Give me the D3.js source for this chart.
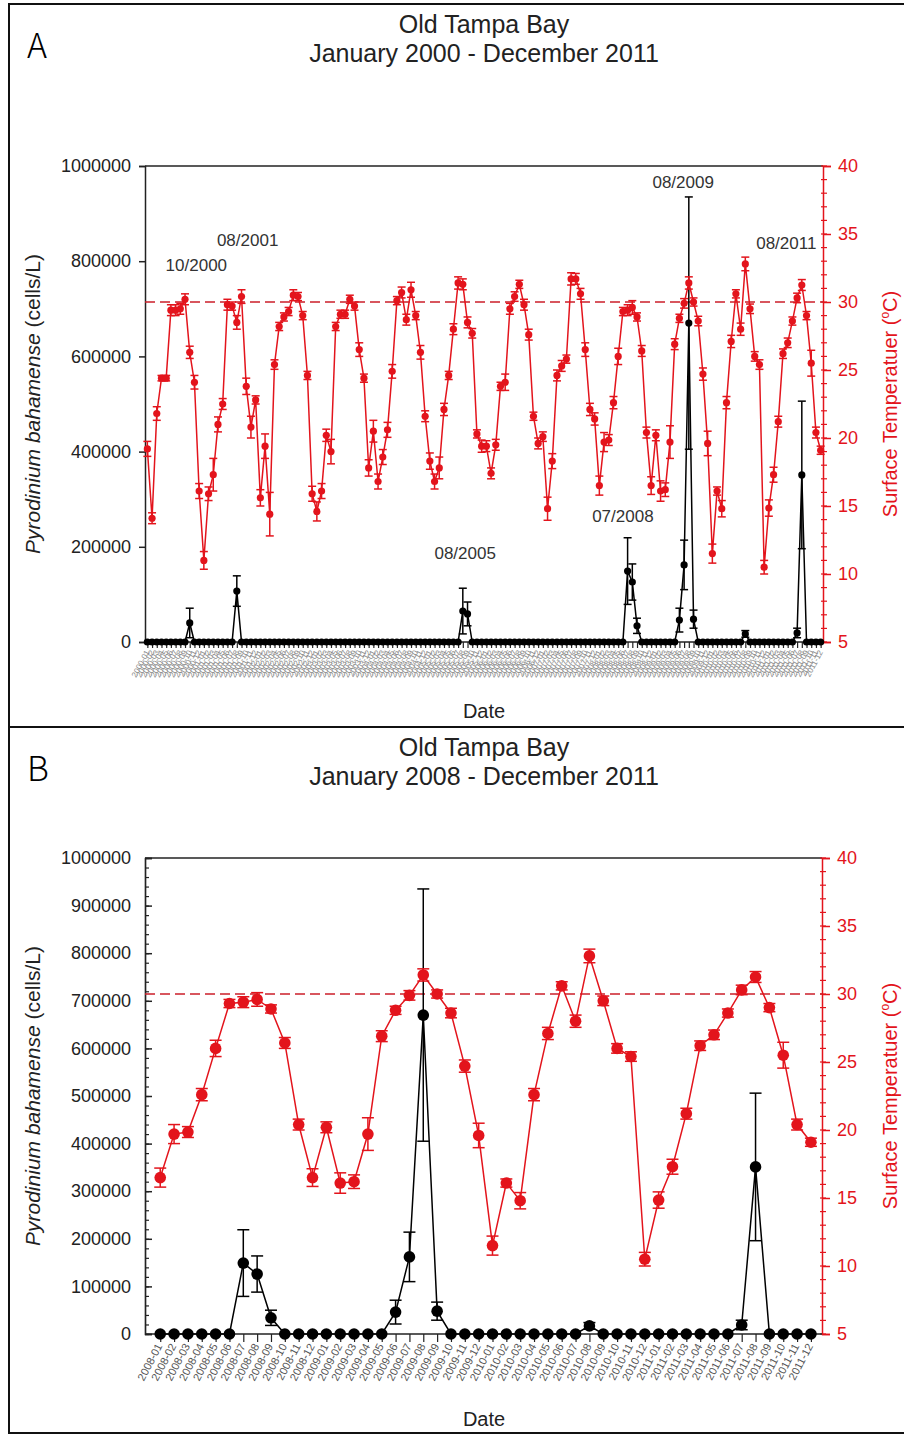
<!DOCTYPE html>
<html>
<head>
<meta charset="utf-8">
<script src="https://cdn.jsdelivr.net/npm/d3@7/dist/d3.min.js"></script>
<style>
body{margin:0;background:#fff;}
svg{display:block;font-family:"Liberation Sans",Arial,sans-serif;}
</style>
</head>
<body>
<script>
//Data: monthly values, January 2000 - December 2011
var years = [2000,2001,2002,2003,2004,2005,2006,2007,2008,2009,2010,2011];
var monthNums = ["01","02","03","04","05","06","07","08","09","10","11","12"];

//Surface temperature (C), one row per year
var temperature = [
  19.2,14.1,21.8,24.4,24.4,29.4,29.4,29.5,30.2,26.3,24.1,16.1,
  11.0,15.9,17.3,21.0,22.5,29.8,29.7,28.5,30.4,23.8,20.8,22.8,
  15.6,19.4,14.4,25.4,28.2,28.9,29.3,30.5,30.4,29.0,24.6,15.9,
  14.6,16.1,20.2,19.0,28.2,29.1,29.1,30.2,29.7,26.5,24.4,17.8,
  20.5,16.8,18.6,20.6,24.9,30.1,30.7,28.7,30.9,29.0,26.3,21.6,
  18.3,16.8,17.8,22.1,24.6,28.0,31.4,31.3,28.5,27.7,20.3,19.4,
  19.4,17.4,19.5,23.8,24.1,29.5,30.4,31.3,29.8,27.6,21.6,19.6,
  20.1,14.8,18.3,24.6,25.3,25.8,31.7,31.7,30.6,26.5,22.1,21.4,
  16.5,19.7,19.85,22.6,26.0,29.3,29.4,29.6,28.9,26.4,20.4,16.5,
  20.2,16.1,16.2,19.7,26.9,28.8,29.9,31.4,30.0,28.6,24.7,19.6,
  11.5,16.1,14.8,22.6,27.1,30.6,28.0,32.8,29.5,26.0,25.4,10.5,
  14.85,17.3,21.2,26.2,27.0,28.6,30.3,31.25,29.0,25.5,20.4,19.1
];
var temperatureErr = [
  0.55,0.4,0.5,0.2,0.2,0.4,0.4,0.4,0.4,0.45,0.5,0.55,
  0.65,0.5,1.2,0.55,0.4,0.4,0.3,0.5,0.5,0.6,0.8,0.3,
  0.6,0.9,1.6,0.35,0.3,0.3,0.3,0.4,0.3,0.3,0.3,0.55,
  0.7,0.55,0.45,0.9,0.3,0.3,0.3,0.3,0.3,0.5,0.3,0.6,
  0.8,0.55,0.55,0.55,0.5,0.3,0.4,0.4,0.55,0.3,0.5,0.4,
  0.6,0.55,0.8,0.45,0.3,0.4,0.45,0.4,0.4,0.35,0.3,0.45,
  0.4,0.4,0.4,0.3,0.6,0.4,0.35,0.3,0.4,0.4,0.3,0.4,
  0.35,0.85,0.55,0.4,0.4,0.3,0.45,0.4,0.4,0.5,0.45,0.45,
  0.7,0.7,0.4,0.45,0.6,0.3,0.4,0.5,0.3,0.4,0.4,0.65,
  0.4,0.75,0.5,1.2,0.4,0.3,0.35,0.45,0.3,0.35,0.45,0.9,
  0.7,0.3,0.6,0.45,0.45,0.3,0.45,0.5,0.35,0.35,0.35,0.5,
  0.6,0.55,0.4,0.35,0.35,0.3,0.35,0.4,0.3,0.95,0.4,0.3
];

//Pyrodinium bahamense (cells/L)
var cells = [
  0,0,0,0,0,0,0,0,0,40000,0,0,
  0,0,0,0,0,0,0,107000,0,0,0,0,
  0,0,0,0,0,0,0,0,0,0,0,0,
  0,0,0,0,0,0,0,0,0,0,0,0,
  0,0,0,0,0,0,0,0,0,0,0,0,
  0,0,0,0,0,0,0,65000,59000,0,0,0,
  0,0,0,0,0,0,0,0,0,0,0,0,
  0,0,0,0,0,0,0,0,0,0,0,0,
  0,0,0,0,0,0,149000,126000,34000,0,0,0,
  0,0,0,0,0,46000,162000,670000,48000,0,0,0,
  0,0,0,0,0,0,0,17000,0,0,0,0,
  0,0,0,0,0,0,19000,351000,0,0,0,0
];
var cellsErr = [
  0,0,0,0,0,0,0,0,0,31000,0,0,
  0,0,0,0,0,0,0,32000,0,0,0,0,
  0,0,0,0,0,0,0,0,0,0,0,0,
  0,0,0,0,0,0,0,0,0,0,0,0,
  0,0,0,0,0,0,0,0,0,0,0,0,
  0,0,0,0,0,0,0,48000,25000,0,0,0,
  0,0,0,0,0,0,0,0,0,0,0,0,
  0,0,0,0,0,0,0,0,0,0,0,0,
  0,0,0,0,0,0,70000,38000,16000,0,0,0,
  0,0,0,0,0,25000,52000,265000,19000,0,0,0,
  0,0,0,0,0,0,0,7000,0,0,0,0,
  0,0,0,0,0,0,10000,155000,0,0,0,0
];

//Bloom labels on panel A (month index, cells/L height)
var annoText = ["10/2000","08/2001","08/2005","07/2008","08/2009","08/2011"];
var annoMonth = [10.4,21.3,67.5,101,113.8,135.7];
var annoCells = [779000,832000,174000,252000,954000,826000];

var threshold = 30;

//month labels
var monthLabels = [];
years.forEach(function(y){
    monthNums.forEach(function(m){ monthLabels.push(y + '-' + m); });
});

var W = 904, H = 1435;
var red = '#e3141c';
var svg = d3.select('body').append('svg')
    .attr('width',W)
    .attr('height',H);

//outer frames
svg.append('rect').attr('x',9).attr('y',4).attr('width',920).attr('height',723)
    .attr('fill','none').attr('stroke','#111').attr('stroke-width',2);
svg.append('rect').attr('x',9).attr('y',727).attr('width',920).attr('height',706)
    .attr('fill','none').attr('stroke','#111').attr('stroke-width',2);

function drawPanel(p){
    var g = svg.append('g');
    var idx = d3.range(p.start, p.end);
    var x = d3.scaleLinear().domain(p.xDomain).range([p.left,p.right]);
    var yC = d3.scaleLinear().domain([0,1000000]).range([p.bottom,p.top]);
    var yT = d3.scaleLinear().domain([5,40]).range([p.bottom,p.top]);
    var xi = function(i){ return x(i - p.start); };

    //panel letter + titles
    g.append('text').attr('x',27).attr('y',p.frameTop + 54)
        .attr('font-size',34).attr('font-family','"Noto Sans CJK SC","Noto Sans",sans-serif')
        .attr('font-weight',300).text(p.letter);
    g.append('text').attr('x',484).attr('y',p.frameTop + 29)
        .attr('text-anchor','middle').attr('font-size',25).attr('fill','#222').text('Old Tampa Bay');
    g.append('text').attr('x',484).attr('y',p.frameTop + 58)
        .attr('text-anchor','middle').attr('font-size',25).attr('fill','#222').text(p.subtitle);

    //top border of plot
    g.append('line').attr('x1',p.left).attr('x2',p.right).attr('y1',p.top).attr('y2',p.top)
        .attr('stroke','#222').attr('stroke-width',1.5);

    //left axis
    var la = g.append('g').attr('transform','translate(' + p.left + ',0)')
        .call(d3.axisLeft(yC).tickValues(d3.range(0,1000001,p.yStep))
            .tickFormat(d3.format('d')).tickSizeOuter(0)
            .tickSize(p.tickIn ? -7 : 6).tickPadding(p.tickIn ? 14 : 8));
    la.selectAll('text').attr('font-size',18).attr('fill','#222');
    la.selectAll('line,path').attr('stroke','#222').attr('stroke-width',1.5);
    if(p.minor){
        var lm = g.append('g').attr('transform','translate(' + p.left + ',0)')
            .call(d3.axisLeft(yC).tickValues(d3.range(0,1000001,20000))
                .tickFormat('').tickSizeOuter(0).tickSize(-4));
        lm.selectAll('line,path').attr('stroke','#222').attr('stroke-width',1.2);
    }

    //right axis
    var ra = g.append('g').attr('transform','translate(' + p.right + ',0)')
        .call(d3.axisRight(yT).tickValues(d3.range(5,41,5)).tickSizeOuter(0)
            .tickSize(8).tickPadding(7));
    ra.selectAll('text').attr('font-size',18).attr('fill',red);
    ra.selectAll('line,path').attr('stroke',red).attr('stroke-width',1.5);
    g.append('g').selectAll('line').data(d3.range(5,41,1)).enter().append('line')
        .attr('x1',p.right - 2).attr('x2',p.right + 4)
        .attr('y1',function(d){ return yT(d); }).attr('y2',function(d){ return yT(d); })
        .attr('stroke',red).attr('stroke-width',1.2);

    //bottom axis
    var ba = g.append('g').attr('transform','translate(0,' + p.bottom + ')')
        .call(d3.axisBottom(x).tickValues(d3.range(0, p.end - p.start))
            .tickFormat(function(d){ return monthLabels[d + p.start]; })
            .tickSizeOuter(0).tickSize(p.xTick));
    ba.selectAll('line,path').attr('stroke','#222').attr('stroke-width',1.2);
    ba.select('path').attr('d','M' + p.left + ',0H' + p.right).attr('stroke-width',1.5);
    ba.selectAll('text')
        .attr('font-size',p.xFont).attr('fill',p.xFill)
        .attr('text-anchor','end').attr('dy',0)
        .attr('transform','translate(2,' + (p.xTick + 4) + ') rotate(-62)')
        .attr('y',0);

    //threshold
    g.append('line').attr('x1',p.left).attr('x2',p.right)
        .attr('y1',yT(threshold)).attr('y2',yT(threshold))
        .attr('stroke','#cc1f2a').attr('stroke-width',1.5).attr('stroke-dasharray','10,5');

    //Pyrodinium series (black)
    g.append('path').datum(idx)
        .attr('d',d3.line().x(xi).y(function(i){ return yC(cells[i]); }))
        .attr('fill','none').attr('stroke','#000').attr('stroke-width',1.5);
    var eb = g.append('g').selectAll('g').data(idx.filter(function(i){ return cellsErr[i] > 0; }))
        .enter().append('g');
    eb.append('line').attr('x1',xi).attr('x2',xi)
        .attr('y1',function(i){ return yC(cells[i] - cellsErr[i]); })
        .attr('y2',function(i){ return yC(cells[i] + cellsErr[i]); });
    eb.append('line').attr('x1',function(i){ return xi(i) - p.cap; }).attr('x2',function(i){ return xi(i) + p.cap; })
        .attr('y1',function(i){ return yC(cells[i] + cellsErr[i]); })
        .attr('y2',function(i){ return yC(cells[i] + cellsErr[i]); });
    eb.append('line').attr('x1',function(i){ return xi(i) - p.cap; }).attr('x2',function(i){ return xi(i) + p.cap; })
        .attr('y1',function(i){ return yC(cells[i] - cellsErr[i]); })
        .attr('y2',function(i){ return yC(cells[i] - cellsErr[i]); });
    eb.selectAll('line').attr('stroke','#000').attr('stroke-width',1.5);
    g.append('g').selectAll('circle').data(idx).enter().append('circle')
        .attr('cx',xi).attr('cy',function(i){ return yC(cells[i]); })
        .attr('r',p.r).attr('fill','#000');

    //temperature series (red)
    g.append('path').datum(idx)
        .attr('d',d3.line().x(xi).y(function(i){ return yT(temperature[i]); }))
        .attr('fill','none').attr('stroke',red).attr('stroke-width',1.5);
    var tb = g.append('g').selectAll('g').data(idx).enter().append('g');
    tb.append('line').attr('x1',xi).attr('x2',xi)
        .attr('y1',function(i){ return yT(temperature[i] - temperatureErr[i]); })
        .attr('y2',function(i){ return yT(temperature[i] + temperatureErr[i]); });
    tb.append('line').attr('x1',function(i){ return xi(i) - p.cap; }).attr('x2',function(i){ return xi(i) + p.cap; })
        .attr('y1',function(i){ return yT(temperature[i] + temperatureErr[i]); })
        .attr('y2',function(i){ return yT(temperature[i] + temperatureErr[i]); });
    tb.append('line').attr('x1',function(i){ return xi(i) - p.cap; }).attr('x2',function(i){ return xi(i) + p.cap; })
        .attr('y1',function(i){ return yT(temperature[i] - temperatureErr[i]); })
        .attr('y2',function(i){ return yT(temperature[i] - temperatureErr[i]); });
    tb.selectAll('line').attr('stroke',red).attr('stroke-width',1.5);
    g.append('g').selectAll('circle').data(idx).enter().append('circle')
        .attr('cx',xi).attr('cy',function(i){ return yT(temperature[i]); })
        .attr('r',p.r).attr('fill',red);

    //bloom labels
    if(p.annotate){
        g.append('g').selectAll('text').data(annoText).enter().append('text')
            .attr('x',function(d,k){ return xi(annoMonth[k]); })
            .attr('y',function(d,k){ return yC(annoCells[k]); })
            .attr('text-anchor','middle').attr('font-size',17).attr('fill','#333')
            .text(function(d){ return d; });
    }

    //axis titles
    var midY = (p.top + p.bottom) / 2;
    var lt = g.append('text').attr('transform','translate(40,' + midY + ') rotate(-90)')
        .attr('text-anchor','middle').attr('font-size',21).attr('fill','#222');
    lt.append('tspan').attr('font-style','italic').text('Pyrodinium bahamense');
    lt.append('tspan').text(' (cells/L)');
    var rt = g.append('text').attr('transform','translate(897,' + midY + ') rotate(-90)')
        .attr('text-anchor','middle').attr('font-size',20).attr('fill',red);
    rt.append('tspan').text('Surface Temperatuer (');
    rt.append('tspan').attr('font-size',12).attr('dy',-8).text('o');
    rt.append('tspan').attr('dy',8).text('C)');
    g.append('text').attr('x',484).attr('y',p.dateY)
        .attr('text-anchor','middle').attr('font-size',20).attr('fill','#222').text('Date');
}

//Panel A: full record
drawPanel({
    letter:'A', subtitle:'January 2000 - December 2011', frameTop:4,
    start:0, end:144, xDomain:[-0.5,143.5],
    left:145, right:823, top:166, bottom:642,
    yStep:200000, tickIn:false, minor:false,
    xTick:6, xFont:8, xFill:'#8a8a8a', r:3.6, cap:4, annotate:true, dateY:718
});

//Panel B: 2008-2011
drawPanel({
    letter:'B', subtitle:'January 2008 - December 2011', frameTop:727,
    start:96, end:144, xDomain:[-1.1,47.8],
    left:145, right:822, top:858, bottom:1334,
    yStep:100000, tickIn:true, minor:true,
    xTick:8, xFont:11, xFill:'#555', r:5.8, cap:6, annotate:false, dateY:1426
});
</script>
</body>
</html>
